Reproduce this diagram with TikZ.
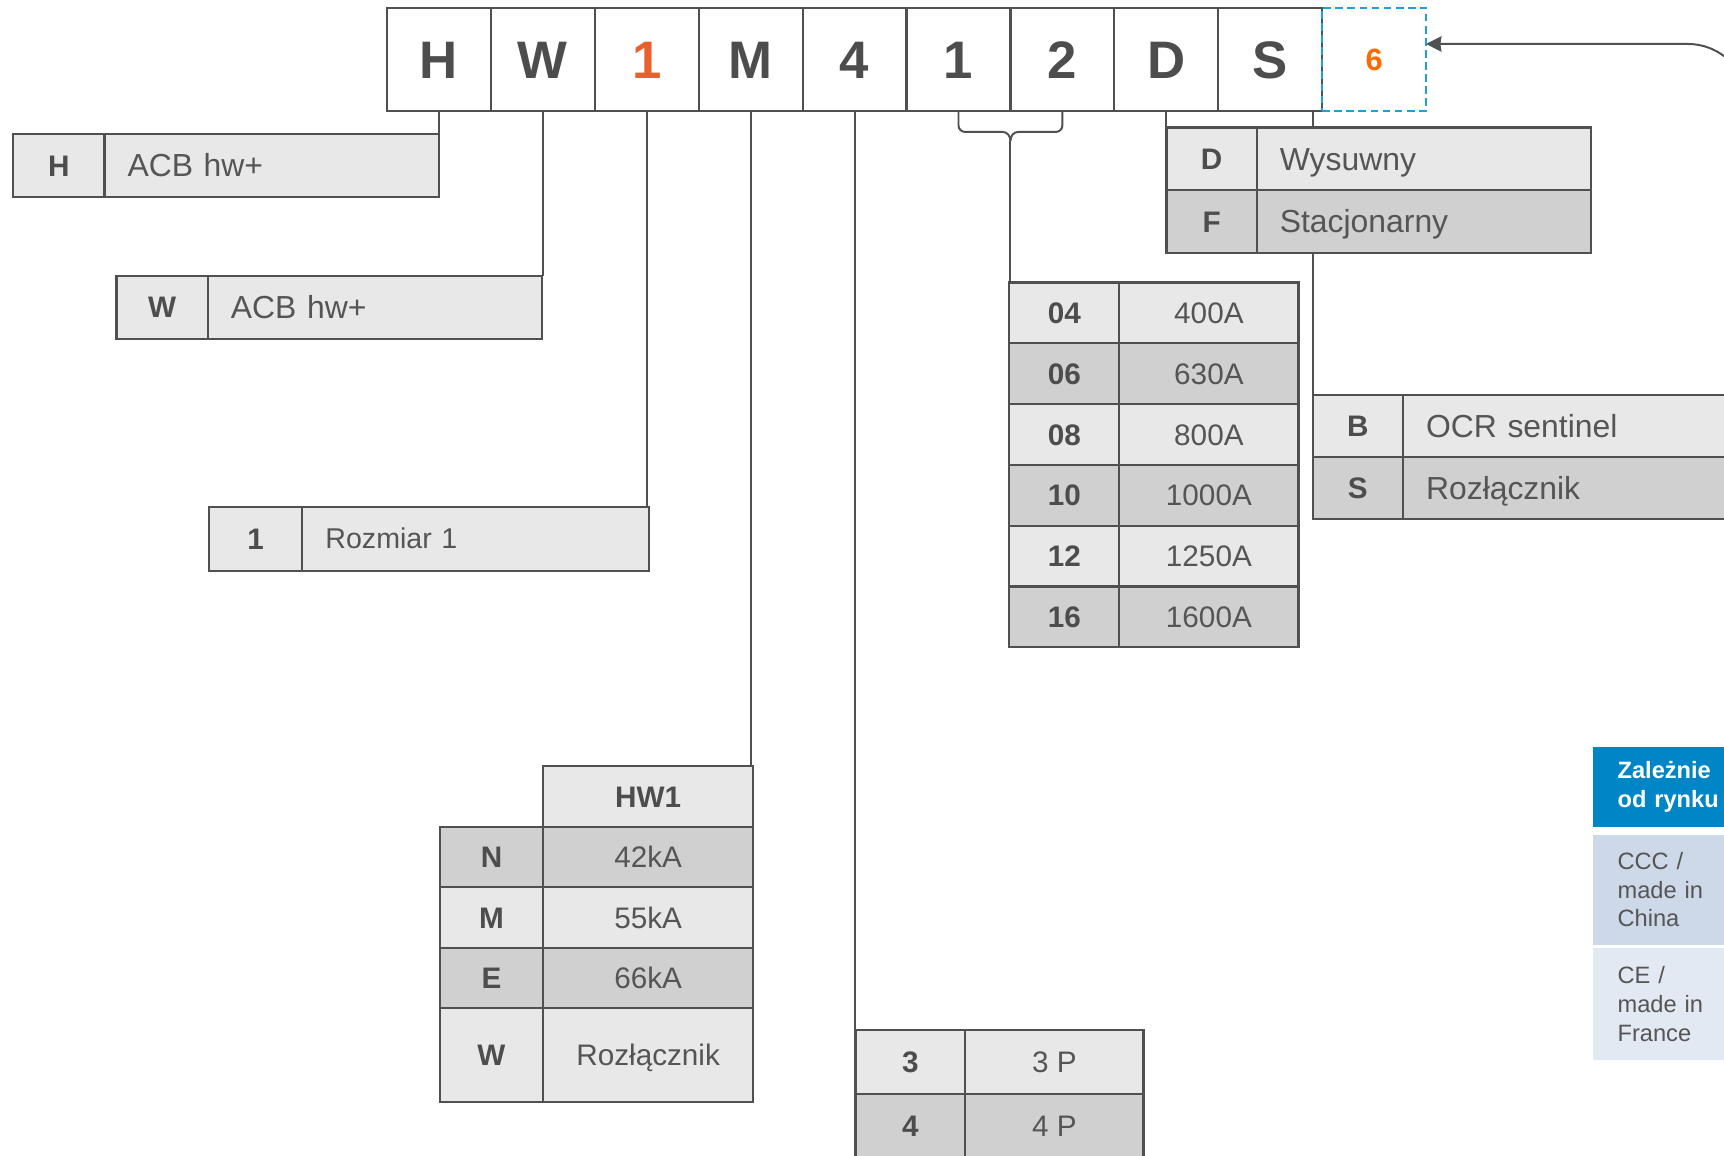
\documentclass[tikz,border=0pt]{standalone}
\usepackage{fontspec}
\setmainfont{Liberation Sans}
\usetikzlibrary{arrows.meta, positioning}
\definecolor{linegray}{HTML}{505050}
\definecolor{textgray}{HTML}{4D4D4D}
\definecolor{descgray}{HTML}{555555}
\definecolor{rowlight}{HTML}{E8E8E8}
\definecolor{rowdark}{HTML}{D0D0D0}
\definecolor{codeorange}{HTML}{E8602C}
\definecolor{markorange}{HTML}{FF6A00}
\definecolor{dashblue}{HTML}{1E9FD8}
\definecolor{marketblue}{HTML}{0086C6}
\definecolor{chinablue}{HTML}{CDD9E8}
\definecolor{franceblue}{HTML}{E3E9F2}
\tikzstyle{codecell} = [rectangle, draw=linegray, line width=2pt, minimum width=94.5pt, minimum height=94pt, inner sep=0pt, outer sep=0pt, text=textgray, text height=34.4pt, text depth=0pt, font=\fontsize{48}{48}\selectfont\bfseries]
\tikzstyle{extracell} = [codecell, draw=dashblue, line width=1.8pt, dash pattern=on 7pt off 4pt, text=markorange, text height=20pt, font=\fontsize{28}{28}\selectfont\bfseries]
\tikzstyle{cell} = [rectangle, draw=linegray, line width=2pt, inner sep=0pt, outer sep=0pt, minimum height=57pt, text height=19.3pt, text depth=0pt]
\tikzstyle{keycell} = [cell, text=textgray, font=\fontsize{27}{27}\selectfont\bfseries]
\tikzstyle{valcell} = [cell, text=descgray, font=\fontsize{27}{27}\selectfont]
\tikzstyle{desccell} = [cell, text=descgray, inner xsep=21pt, align=left, text height=20.8pt, font=\fontsize{29}{29}\selectfont]
\tikzstyle{lightrow} = [fill=rowlight]
\tikzstyle{darkrow} = [fill=rowdark]
\tikzstyle{panel} = [rectangle, anchor=north west, minimum width=160pt, inner xsep=22pt, inner ysep=0pt, text width=116pt, align=left, text=descgray, font=\fontsize{21.5}{26}\selectfont]
\tikzstyle{link} = [draw=linegray, line width=1.8pt]
\tikzstyle{arrow} = [link, -{Stealth[length=14pt, width=14pt, inset=1pt]}]

\begin{document}
\begin{tikzpicture}[x=1pt, y=-1pt, node distance=0pt]
\useasboundingbox (0,0) rectangle (1568,1051);

% order code
\node (brand) [codecell] at (399.25,54) {H};
\node (family) [codecell, right=of brand] {W};
\node (size) [codecell, right=of family, text=codeorange] {1};
\node (bcap) [codecell, right=of size] {M};
\node (poles) [codecell, right=of bcap] {4};
\node (amp1) [codecell, right=of poles] {1};
\node (amp2) [codecell, right=of amp1] {2};
\node (mount) [codecell, right=of amp2] {D};
\node (unit) [codecell, right=of mount] {S};
\node (mkt) [extracell, right=of unit] {6};

\node (brandkey) [keycell, lightrow, minimum width=83pt, anchor=north west] at (12,122) {H};
\node (branddesc) [desccell, lightrow, text width=262pt, right=of brandkey] {ACB hw+};

\node (famkey) [keycell, lightrow, minimum width=83pt, anchor=north west] at (106,251) {W};
\node (famdesc) [desccell, lightrow, text width=262pt, right=of famkey] {ACB hw+};

\node (sizekey) [keycell, lightrow, minimum width=85pt, minimum height=58pt, anchor=north west] at (190,461) {1};
\node (sizedesc) [desccell, lightrow, text width=273pt, minimum height=58pt, text height=18.6pt, font=\fontsize{26}{26}\selectfont, right=of sizekey] {Rozmiar 1};

% breaking capacity
\node (bchead) [keycell, lightrow, minimum width=191pt, minimum height=55pt, anchor=north west] at (494,697) {HW1};
\node (nkey) [keycell, darkrow, minimum width=94pt, minimum height=55pt, anchor=north west] at (400,752) {N};
\node (nval) [valcell, darkrow, minimum width=191pt, minimum height=55pt, right=of nkey] {42kA};
\node (mkey) [keycell, lightrow, minimum width=94pt, minimum height=55pt, below=of nkey] {M};
\node (mval) [valcell, lightrow, minimum width=191pt, minimum height=55pt, right=of mkey] {55kA};
\node (ekey) [keycell, darkrow, minimum width=94pt, minimum height=55pt, below=of mkey] {E};
\node (eval) [valcell, darkrow, minimum width=191pt, minimum height=55pt, right=of ekey] {66kA};
\node (wkey) [keycell, lightrow, minimum width=94pt, minimum height=85pt, below=of ekey] {W};
\node (wval) [valcell, lightrow, minimum width=191pt, minimum height=85pt, right=of wkey] {Rozłącznik};

\node (p3key) [keycell, lightrow, minimum width=100pt, minimum height=58pt, anchor=north west] at (778,937) {3};
\node (p3val) [valcell, lightrow, minimum width=162pt, minimum height=58pt, right=of p3key] {3 P};
\node (p4key) [keycell, darkrow, minimum width=100pt, minimum height=58pt, below=of p3key] {4};
\node (p4val) [valcell, darkrow, minimum width=162pt, minimum height=58pt, right=of p4key] {4 P};

% rated current
\node (a04key) [keycell, lightrow, minimum width=100pt, minimum height=55.3pt, anchor=north west] at (918,257) {04};
\node (a04val) [valcell, lightrow, minimum width=163pt, minimum height=55.3pt, right=of a04key] {400A};
\node (a06key) [keycell, darkrow, minimum width=100pt, minimum height=55.3pt, below=of a04key] {06};
\node (a06val) [valcell, darkrow, minimum width=163pt, minimum height=55.3pt, right=of a06key] {630A};
\node (a08key) [keycell, lightrow, minimum width=100pt, minimum height=55.3pt, below=of a06key] {08};
\node (a08val) [valcell, lightrow, minimum width=163pt, minimum height=55.3pt, right=of a08key] {800A};
\node (a10key) [keycell, darkrow, minimum width=100pt, minimum height=55.3pt, below=of a08key] {10};
\node (a10val) [valcell, darkrow, minimum width=163pt, minimum height=55.3pt, right=of a10key] {1000A};
\node (a12key) [keycell, lightrow, minimum width=100pt, minimum height=55.3pt, below=of a10key] {12};
\node (a12val) [valcell, lightrow, minimum width=163pt, minimum height=55.3pt, right=of a12key] {1250A};
\node (a16key) [keycell, darkrow, minimum width=100pt, minimum height=55.3pt, below=of a12key] {16};
\node (a16val) [valcell, darkrow, minimum width=163pt, minimum height=55.3pt, right=of a16key] {1600A};

\node (dkey) [keycell, lightrow, minimum width=82pt, anchor=north west] at (1061,116) {D};
\node (ddesc) [desccell, lightrow, text width=262pt, right=of dkey] {Wysuwny};
\node (fkey) [keycell, darkrow, minimum width=82pt, below=of dkey] {F};
\node (fdesc) [desccell, darkrow, text width=262pt, right=of fkey] {Stacjonarny};

\node (bkey) [keycell, lightrow, minimum width=82pt, minimum height=56.5pt, anchor=north west] at (1194,359) {B};
\node (bdesc) [desccell, lightrow, text width=288pt, minimum height=56.5pt, right=of bkey] {OCR sentinel};
\node (skey) [keycell, darkrow, minimum width=82pt, minimum height=56.5pt, below=of bkey] {S};
\node (sdesc) [desccell, darkrow, text width=288pt, minimum height=56.5pt, right=of skey] {Rozłącznik};

% market variants
\node (market) [panel, fill=marketblue, text=white, minimum height=73pt, font=\fontsize{21.5}{26}\selectfont\bfseries] at (1449,679) {Zależnie\\od rynku};
\node (china) [panel, fill=chinablue, minimum height=100pt] at (1449,759) {CCC /\\made in\\China};
\node (france) [panel, fill=franceblue, minimum height=102pt] at (1449,862) {CE /\\made in\\France};

\draw [link] (brand.south) -- (brand.south |- branddesc.north);
\draw [link] (family.south) -- (family.south |- famdesc.north);
\draw [link] (size.south) -- (size.south |- sizedesc.north);
\draw [link] (bcap.south) -- (bcap.south |- bchead.north);
\draw [link] (poles.south) -- (poles.south |- p3key.north);
% brace over the two rating digits
\path (amp1.south east) ++(0,27) coordinate (tip);
\draw [link] (amp1.south) -- ++(0,13) to[out=270,in=180] ++(6,6) -- ([xshift=-7pt, yshift=8pt]tip) to[out=0,in=90] (tip);
\draw [link] (amp2.south) -- ++(0,13) to[out=270,in=0] ++(-6,6) -- ([xshift=7pt, yshift=8pt]tip) to[out=180,in=90] (tip);
\draw [link] (tip) -- (tip |- a04key.north);
\draw [link] (mount.south) -- (mount.south |- dkey.north);
\draw [link] (bkey.north west |- unit.south) -- (bkey.north west |- ddesc.north);
\draw [link] (bkey.north west |- fdesc.south) -- (bkey.north west);

\coordinate (feed) at (1590,160);
\coordinate (bend) at (1590,40);
\draw [arrow, rounded corners=55pt] (feed) -- (bend) -- (bend -| mkt.east);
\end{tikzpicture}
\end{document}
